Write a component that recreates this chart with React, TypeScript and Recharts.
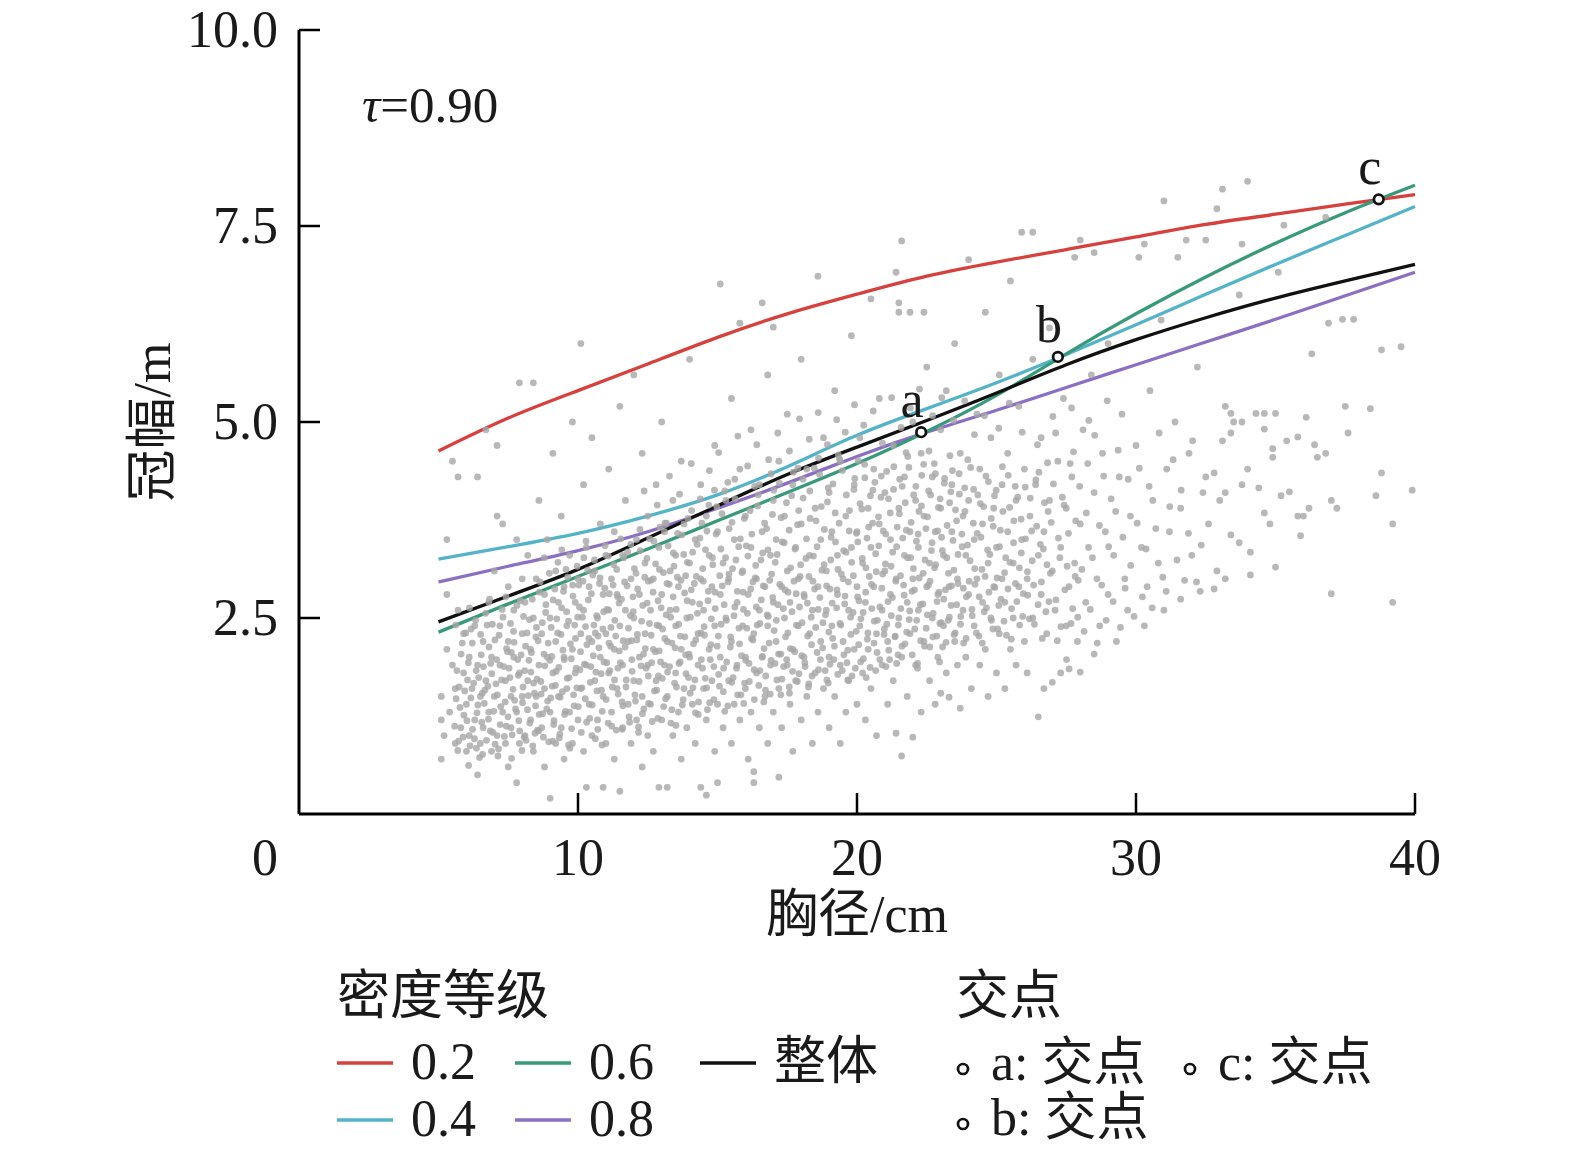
import React from "react";
import { ComposedChart, Scatter, Line, XAxis, YAxis, Label } from "recharts";

const FONT = "'Liberation Serif', 'Noto Sans CJK SC', serif";
const INK = "#1a1a1a";

const X_TICKS = [0, 10, 20, 30, 40];
const Y_TICKS = [2.5, 5, 7.5, 10];

// fitted curves, read at every 2.5 cm
const CURVE_X = [5, 7.5, 10, 12.5, 15, 17.5, 20, 22.5, 25, 27.5, 30, 32.5, 35, 37.5, 40];
const DENSITY_02 = [4.63, 5.05, 5.4, 5.74, 6.08, 6.38, 6.63, 6.86, 7.04, 7.2, 7.36, 7.52, 7.65, 7.78, 7.9];
const DENSITY_04 = [3.25, 3.41, 3.58, 3.8, 4.07, 4.43, 4.83, 5.17, 5.5, 5.86, 6.24, 6.63, 7.01, 7.38, 7.75];
const DENSITY_06 = [2.32, 2.68, 3.03, 3.38, 3.74, 4.1, 4.47, 4.88, 5.34, 5.87, 6.38, 6.85, 7.28, 7.67, 8.02];
const DENSITY_08 = [2.96, 3.16, 3.36, 3.6, 3.9, 4.22, 4.56, 4.87, 5.15, 5.44, 5.73, 6.02, 6.31, 6.61, 6.91];
const OVERALL = [2.45, 2.78, 3.12, 3.52, 3.93, 4.33, 4.68, 5.02, 5.37, 5.73, 6.05, 6.33, 6.58, 6.8, 7.01];

// intersection points
const CROSS_LABELS = ["a", "b", "c"];
const CROSS_X = [22.3, 27.2, 38.7];
const CROSS_Y = [4.87, 5.83, 7.84];

// observed trees (DBH cm, crown width m), grouped by DBH band
const DOTS_A = [[5.1,0.7],[5.1,1.2],[5.1,1.5],[5.2,1.0],[5.3,2.1],[5.3,2.8],[5.3,3.5],[5.5,1.9],[5.5,4.5],[5.4,1.3],[5.6,0.9],[5.6,1.6],[5.7,2.6],[5.7,4.3],[5.8,1.1],[5.9,1.8],[5.9,2.3],[6.0,0.8],[6.0,1.4],[6.1,2.0],[6.1,1.0],[6.2,1.6],[6.3,2.4],[6.3,1.2],[6.4,0.5],[6.4,4.3],[6.4,1.9],[6.5,0.9],[6.5,1.5],[6.6,2.2],[6.6,1.1],[6.7,4.9],[6.7,1.7],[6.8,2.7],[6.8,1.3],[6.9,0.8],[6.9,2.0],[7.0,1.5],[7.0,3.1],[7.1,4.7],[7.1,3.8],[7.1,1.0],[7.2,1.9],[7.2,2.4],[7.3,3.7],[7.3,1.3],[7.4,0.9],[7.4,1.7],[7.5,0.6],[7.5,2.2],[7.5,2.9],[7.6,1.1],[7.6,1.5],[7.7,2.0],[7.7,2.6],[7.8,0.4],[7.8,3.5],[7.8,1.3],[7.9,5.5],[7.9,1.8],[7.9,0.9],[8.0,2.3],[8.0,3.0],[8.0,1.5]];
const DOTS_B = [[8.1,1.0],[8.1,2.7],[8.2,1.7],[8.2,3.3],[8.3,1.2],[8.3,2.1],[8.4,5.5],[8.4,0.8],[8.4,2.5],[8.5,1.5],[8.5,3.0],[8.6,1.9],[8.6,4.0],[8.7,1.1],[8.7,2.3],[8.8,0.6],[8.8,1.6],[8.8,2.8],[8.9,2.0],[8.9,3.5],[9.0,0.2],[9.0,1.3],[9.0,2.5],[9.1,1.8],[9.1,4.6],[9.2,0.9],[9.2,2.2],[9.2,3.1],[9.3,1.5],[9.3,2.7],[9.4,1.1],[9.4,3.8],[9.5,2.0],[9.5,0.7],[9.5,2.9],[9.6,1.6],[9.6,2.4],[9.7,1.3],[9.7,3.3],[9.8,0.9],[9.8,2.1],[9.8,5.0],[9.9,1.8],[9.9,2.7],[10.0,1.2],[10.0,3.0],[10.1,6.0],[10.1,2.3],[10.1,1.6],[10.2,0.8],[10.2,2.6],[10.2,4.2],[10.3,0.34],[10.3,1.9],[10.3,3.4],[10.4,1.4],[10.4,2.9],[10.5,1.0],[10.5,2.2],[10.5,4.8],[10.6,1.7],[10.6,3.1],[10.7,2.5],[10.7,1.2],[10.8,2.0],[10.8,3.7],[10.9,0.34],[10.9,1.5],[10.9,2.8],[11.0,0.9],[11.0,2.3],[11.0,3.3]];
const DOTS_C = [[11.1,1.8],[11.1,2.6],[11.1,4.4],[11.2,1.3],[11.2,3.0],[11.3,0.7],[11.3,2.1],[11.3,3.6],[11.4,1.6],[11.4,2.8],[11.5,0.29],[11.5,2.4],[11.5,5.2],[11.6,1.1],[11.6,1.9],[11.6,3.3],[11.7,2.6],[11.7,4.0],[11.8,1.4],[11.8,2.2],[11.9,0.9],[11.9,3.0],[12.0,1.7],[12.0,2.5],[12.0,5.6],[12.1,3.5],[12.1,1.2],[12.2,2.0],[12.2,2.8],[12.3,0.6],[12.3,1.5],[12.3,4.6],[12.4,2.3],[12.4,3.2],[12.5,1.0],[12.5,1.9],[12.5,3.8],[12.6,2.6],[12.6,1.4],[12.7,0.8],[12.7,2.1],[12.7,3.0],[12.8,1.7],[12.8,4.2],[12.9,0.34],[12.9,2.4],[12.9,3.4],[13.0,1.2],[13.0,2.8],[13.0,5.0],[13.1,1.9],[13.1,3.6],[13.2,0.34],[13.2,2.2],[13.2,1.5],[13.3,3.1],[13.3,2.6],[13.4,1.0],[13.4,4.0],[13.5,1.8],[13.5,2.4],[13.5,3.3],[13.6,1.3],[13.6,2.9],[13.7,0.7],[13.7,2.1],[13.7,4.5],[13.8,1.6],[13.8,3.7],[13.9,2.5],[13.9,1.1],[14.0,2.0],[14.0,3.2],[14.0,5.8]];
const DOTS_D = [[14.1,1.4],[14.1,2.7],[14.2,0.9],[14.2,3.5],[14.3,1.9],[14.3,2.3],[14.4,0.34],[14.4,3.0],[14.4,4.2],[14.5,1.6],[14.5,2.6],[14.6,0.24],[14.6,1.2],[14.6,3.8],[14.7,2.1],[14.7,3.3],[14.8,1.7],[14.8,2.9],[14.9,0.8],[14.9,2.4],[14.9,4.7],[15.0,0.4],[15.0,1.4],[15.0,3.6],[15.1,6.76],[15.1,2.0],[15.1,2.8],[15.2,1.1],[15.2,3.2],[15.3,2.5],[15.3,4.0],[15.4,1.7],[15.4,3.0],[15.5,0.9],[15.5,2.2],[15.5,5.3],[15.6,1.4],[15.6,3.5],[15.7,2.7],[15.7,1.9],[15.8,6.26],[15.8,1.2],[15.8,4.4],[15.9,2.4],[15.9,3.1],[16.0,1.6],[16.0,2.0],[16.0,3.8],[16.1,0.7],[16.1,2.8],[16.2,1.3],[16.2,3.4],[16.2,4.9],[16.3,0.54],[16.3,0.4],[16.3,2.3],[16.4,1.8],[16.4,3.0],[16.5,1.1],[16.5,2.6],[16.5,4.2],[16.6,6.52],[16.6,2.0],[16.6,3.6],[16.7,1.5],[16.7,2.9],[16.8,0.9],[16.8,2.4],[16.8,5.6],[16.9,1.9],[16.9,3.3],[17.0,6.21],[17.0,1.3],[17.0,2.7],[17.0,4.0]];
const DOTS_E = [[17.1,2.2],[17.1,3.5],[17.2,0.47],[17.2,1.6],[17.2,4.5],[17.3,2.9],[17.3,1.1],[17.4,2.5],[17.4,3.8],[17.5,1.9],[17.5,3.1],[17.5,5.1],[17.6,1.4],[17.6,2.7],[17.7,0.8],[17.7,2.1],[17.7,4.2],[17.8,3.4],[17.8,1.7],[17.9,2.4],[17.9,3.0],[18.0,1.2],[18.0,3.7],[18.0,5.8],[18.1,2.0],[18.1,2.8],[18.2,1.5],[18.2,4.4],[18.3,2.3],[18.3,3.3],[18.4,0.9],[18.4,2.6],[18.5,1.8],[18.5,3.9],[18.6,6.86],[18.6,2.9],[18.6,1.3],[18.7,2.2],[18.7,3.5],[18.8,4.8],[18.8,1.6],[18.9,2.6],[18.9,3.1],[19.0,1.1],[19.0,2.0],[19.0,4.1],[19.1,3.6],[19.1,2.4],[19.2,1.5],[19.2,5.4],[19.3,2.8],[19.3,3.3],[19.4,0.9],[19.4,1.9],[19.4,4.5],[19.5,2.2],[19.5,3.0],[19.6,1.3],[19.6,3.8],[19.7,2.6],[19.7,1.7],[19.8,3.4],[19.8,6.1],[19.9,2.1],[19.9,4.2],[20.0,1.4],[20.0,2.9],[20.0,3.6]];
const DOTS_F = [[20.1,2.4],[20.1,4.8],[20.2,1.8],[20.2,3.2],[20.3,2.7],[20.3,1.2],[20.4,3.9],[20.4,2.1],[20.5,6.57],[20.5,3.4],[20.5,1.6],[20.6,2.9],[20.6,4.4],[20.7,2.3],[20.7,1.0],[20.8,3.7],[20.8,5.3],[20.9,2.6],[20.9,1.9],[21.0,3.1],[21.0,4.1],[21.1,1.4],[21.1,2.2],[21.2,3.5],[21.2,2.8],[21.3,4.7],[21.3,1.7],[21.4,6.91],[21.4,1.03],[21.4,3.0],[21.5,6.52],[21.5,6.4],[21.5,2.5],[21.5,3.9],[21.6,7.31],[21.6,0.74],[21.6,2.0],[21.7,3.3],[21.7,4.3],[21.8,2.7],[21.8,1.5],[21.9,6.4],[21.9,3.6],[21.9,2.3],[22.0,0.98],[22.0,3.0],[22.0,5.0],[22.1,1.9],[22.1,4.0],[22.2,2.6],[22.2,3.4],[22.3,1.3],[22.3,4.6],[22.4,6.4],[22.4,2.2],[22.4,3.8],[22.5,2.9],[22.5,5.7],[22.6,1.7],[22.6,3.2],[22.7,2.5],[22.7,4.3],[22.8,1.4],[22.8,3.6],[22.9,2.0],[22.9,2.8],[23.0,1.54],[23.0,3.9],[23.0,4.9]];
const DOTS_G = [[23.1,2.4],[23.1,3.3],[23.2,5.4],[23.2,1.8],[23.3,1.49],[23.3,2.9],[23.4,4.2],[23.4,3.6],[23.5,2.2],[23.5,6.0],[23.6,3.0],[23.6,1.9],[23.7,1.35],[23.7,4.6],[23.8,2.6],[23.8,3.8],[23.9,2.0],[23.9,3.3],[24.0,7.07],[24.0,2.8],[24.0,4.0],[24.1,1.6],[24.2,3.5],[24.2,2.4],[24.3,5.1],[24.3,3.0],[24.4,1.9],[24.4,4.4],[24.5,2.7],[24.5,3.7],[24.6,2.1],[24.6,6.4],[24.7,3.2],[24.7,1.5],[24.8,4.8],[24.8,2.5],[24.9,3.9],[24.9,2.9],[25.0,1.8],[25.0,3.4],[25.1,5.6],[25.1,2.3],[25.2,4.2],[25.2,3.0],[25.3,1.6],[25.3,2.7],[25.4,3.6],[25.4,4.6],[25.5,2.1],[25.5,6.8],[25.6,3.2],[25.6,2.5],[25.7,1.9],[25.7,4.0],[25.8,2.9],[25.8,5.2],[25.9,7.42],[25.9,3.5],[26.0,2.2],[26.0,4.4]];
const DOTS_H = [[26.1,3.0],[26.1,1.8],[26.2,3.8],[26.3,7.42],[26.3,2.5],[26.3,5.8],[26.4,4.2],[26.5,1.24],[26.5,3.3],[26.6,2.8],[26.6,4.8],[26.7,1.6],[26.7,3.6],[26.8,2.3],[26.9,4.0],[26.9,6.2],[27.0,1.68],[27.0,3.1],[27.1,2.6],[27.2,4.5],[27.3,1.8],[27.3,3.4],[27.4,5.3],[27.5,2.4],[27.5,3.9],[27.6,1.85],[27.6,2.9],[27.7,4.3],[27.8,7.1],[27.8,3.2],[27.9,2.2],[28.0,7.32],[28.0,1.81],[28.0,3.7],[28.1,4.9],[28.2,2.7],[28.3,3.4],[28.4,5.6],[28.5,7.16],[28.5,2.04],[28.5,4.1],[28.6,3.0],[28.7,2.4],[28.8,4.6],[28.9,3.6],[29.0,2.8],[29.0,6.0],[29.2,3.3],[29.3,2.2],[29.4,4.3],[29.5,5.1],[29.6,3.0],[29.7,2.6],[29.8,3.8],[30.0,4.7],[30.1,7.1],[30.3,7.27],[30.3,2.4]];
const DOTS_I = [[30.2,3.4],[30.4,2.9],[30.5,5.4],[30.6,4.0],[30.8,3.2],[30.9,6.3],[31.0,7.82],[31.0,2.6],[31.1,4.4],[31.2,3.6],[31.4,5.0],[31.5,7.1],[31.6,2.74],[31.6,3.9],[31.8,7.32],[31.9,4.6],[32.0,3.3],[32.2,5.7],[32.3,2.84],[32.4,4.1],[32.5,7.32],[32.5,4.3],[32.6,3.7],[32.8,2.87],[32.8,4.35],[32.9,7.72],[32.9,3.1],[33.0,4.0],[33.1,7.97],[33.1,4.76],[33.2,3.0],[33.2,4.1],[33.2,5.2],[33.4,3.56],[33.4,4.86],[33.4,5.11],[33.5,5.0],[33.7,3.46],[33.7,6.62],[33.8,4.2],[33.8,5.0],[33.8,7.27],[34.0,8.07],[34.0,4.4]];
const DOTS_J = [[34.1,3.34],[34.1,3.05],[34.3,5.11],[34.4,4.16],[34.6,3.84],[34.6,4.91],[34.6,5.11],[34.8,3.7],[34.9,4.66],[34.9,4.55],[35.0,3.15],[35.0,5.11],[35.1,6.91],[35.2,4.06],[35.3,7.51],[35.4,4.76],[35.5,4.11],[35.8,4.81],[35.8,3.8],[35.9,3.55],[36.0,3.8],[36.1,5.06],[36.2,3.9],[36.3,5.87],[36.4,4.71],[36.5,4.55],[36.8,4.6],[36.8,7.61],[36.9,6.26],[37.0,2.81],[37.0,4.0],[37.2,3.9],[37.4,6.31],[37.5,5.2],[37.6,4.86],[37.8,6.31],[38.4,5.17],[38.6,4.06],[38.8,4.35],[38.8,5.92],[39.2,3.7],[39.2,2.7],[39.5,5.96],[39.9,4.13]];

// the dense core of the cloud
const CORE_1 = [[5.63,1.47],[5.72,0.93],[5.85,2.18],[5.91,1.26],[6.04,1.71],[6.08,0.62],[6.17,2.36],[6.22,1.08],[6.35,1.83],[6.41,1.39],[6.53,2.03],[6.58,0.76],[6.66,1.58],[6.74,2.41],[6.79,1.21],[6.87,1.92],[6.95,1.04],[7.02,2.22],[7.06,1.66],[7.15,0.83],[7.23,1.37],[7.28,2.61],[7.34,1.88],[7.43,1.12],[7.47,2.07],[7.56,1.74],[7.62,0.71],[7.69,2.33],[7.73,1.45],[7.84,1.97],[7.88,1.19],[7.93,2.72],[8.03,1.62],[8.07,0.98],[8.12,2.14],[8.19,1.33],[8.26,2.48],[8.31,1.81],[8.38,0.87],[8.44,1.54],[8.49,2.26],[8.55,1.07],[8.62,2.83],[8.67,1.69],[8.73,1.28],[8.78,2.04],[8.84,2.57],[8.91,1.44],[8.95,0.92],[8.99,1.96]];
const CORE_2 = [[9.04,2.38],[9.08,1.63],[9.13,1.14],[9.17,2.87],[9.22,1.82],[9.27,2.31],[9.33,0.97],[9.36,1.49],[9.41,2.63],[9.46,2.09],[9.52,1.27],[9.57,3.12],[9.61,1.73],[9.66,2.46],[9.71,0.84],[9.76,1.98],[9.82,2.78],[9.86,1.38],[9.91,2.24],[9.96,1.61],[10.03,2.92],[10.07,1.84],[10.12,1.04],[10.16,2.51],[10.21,3.27],[10.26,1.47],[10.32,2.16],[10.37,2.73],[10.42,1.22],[10.46,1.88],[10.53,3.05],[10.57,2.41],[10.62,0.96],[10.68,1.57],[10.72,2.27],[10.77,2.94],[10.83,1.79],[10.87,1.31],[10.92,2.58],[10.97,3.42],[11.03,1.93],[11.08,1.16],[11.12,2.81],[11.17,2.14],[11.23,1.62],[11.28,3.18],[11.32,2.47],[11.37,1.07],[11.43,1.86],[11.47,2.69],[11.53,3.51],[11.58,1.43],[11.62,2.21],[11.67,2.96],[11.73,1.71],[11.78,3.34],[11.83,1.24],[11.88,2.53],[11.93,1.97],[11.97,2.77]];
const CORE_3 = [[12.04,1.52],[12.08,3.07],[12.13,2.29],[12.17,1.11],[12.22,3.63],[12.26,1.89],[12.32,2.66],[12.36,1.34],[12.41,2.11],[12.47,3.26],[12.52,1.76],[12.56,2.43],[12.61,2.98],[12.66,1.18],[12.72,3.48],[12.77,2.07],[12.82,1.58],[12.87,2.72],[12.92,3.12],[12.96,1.94],[13.03,2.36],[13.07,1.37],[13.12,3.71],[13.16,2.54],[13.21,1.81],[13.27,2.93],[13.33,1.16],[13.37,2.18],[13.42,3.33],[13.46,1.67],[13.52,2.61],[13.56,3.02],[13.62,1.92],[13.67,2.27],[13.72,3.56],[13.77,1.46],[13.82,2.82],[13.86,2.03],[13.92,3.21],[13.96,1.74],[14.03,2.51],[14.07,3.87],[14.12,1.61],[14.17,2.94],[14.22,2.22],[14.27,3.44],[14.31,1.27],[14.36,2.68],[14.42,1.97],[14.47,3.13],[14.52,2.39],[14.56,1.73],[14.62,3.61],[14.67,2.84],[14.72,1.42],[14.76,2.16],[14.82,3.27],[14.87,1.88],[14.92,2.62],[14.97,3.92]];
const CORE_4 = [[15.03,2.27],[15.07,1.63],[15.12,3.38],[15.17,2.91],[15.22,1.86],[15.26,4.12],[15.32,2.47],[15.37,1.38],[15.41,3.06],[15.46,2.13],[15.52,3.72],[15.56,1.74],[15.62,2.64],[15.66,3.24],[15.72,1.52],[15.77,2.37],[15.82,3.51],[15.86,2.02],[15.92,2.83],[15.97,1.67],[16.03,3.42],[16.07,2.56],[16.13,1.92],[16.17,3.87],[16.22,2.24],[16.27,2.96],[16.32,1.46],[16.37,3.17],[16.42,2.41],[16.46,4.07],[16.52,1.83],[16.57,2.73],[16.62,3.33],[16.67,2.11],[16.72,1.58],[16.76,3.64],[16.82,2.52],[16.87,2.98],[16.92,1.96],[16.97,3.82],[17.03,2.34],[17.07,3.21],[17.13,1.71],[17.17,2.67],[17.22,4.22],[17.27,2.04],[17.32,3.47],[17.37,1.88],[17.42,2.86],[17.47,3.97],[17.52,2.31],[17.57,1.62],[17.62,3.14],[17.67,2.58],[17.72,4.36],[17.77,2.07],[17.82,2.81],[17.87,3.69],[17.92,1.79],[17.96,3.03]];
const CORE_5 = [[18.03,2.44],[18.07,4.03],[18.13,1.93],[18.17,3.26],[18.22,2.69],[18.27,1.66],[18.32,3.77],[18.37,2.16],[18.42,2.97],[18.47,4.41],[18.52,2.38],[18.57,3.41],[18.62,1.84],[18.67,2.76],[18.72,3.92],[18.77,2.12],[18.82,3.18],[18.87,2.54],[18.92,1.71],[18.97,4.16],[19.03,2.87],[19.07,3.53],[19.13,2.24],[19.17,1.97],[19.22,3.84],[19.27,2.63],[19.32,3.12],[19.37,4.53],[19.42,2.41],[19.47,1.83],[19.52,3.36],[19.57,2.78],[19.62,4.07],[19.67,2.09],[19.72,3.61],[19.77,2.51],[19.82,1.76],[19.87,3.04],[19.92,4.28],[19.97,2.33],[20.03,3.47],[20.07,2.72],[20.13,1.94],[20.17,3.89],[20.22,2.57],[20.27,4.46],[20.32,3.14],[20.37,2.23],[20.42,3.66],[20.47,1.87],[20.52,2.93],[20.57,4.13],[20.62,2.46],[20.67,3.32],[20.72,2.06],[20.77,3.79],[20.82,2.64],[20.87,4.31],[20.92,3.06],[20.97,2.29]];
const CORE_6 = [[21.03,3.57],[21.07,2.42],[21.13,4.02],[21.17,1.97],[21.22,3.16],[21.27,2.76],[21.32,4.43],[21.37,2.27],[21.42,3.41],[21.47,2.03],[21.52,3.83],[21.57,2.62],[21.62,4.18],[21.67,2.92],[21.72,2.17],[21.77,3.62],[21.82,4.56],[21.87,2.48],[21.92,3.27],[21.97,2.84],[22.03,4.07],[22.07,2.36],[22.13,3.48],[22.17,1.92],[22.22,3.86],[22.27,2.67],[22.32,4.32],[22.37,3.07],[22.42,2.14],[22.47,3.64],[22.52,2.54],[22.57,4.12],[22.62,2.97],[22.67,3.36],[22.72,2.26],[22.77,4.47],[22.82,3.18],[22.87,2.71],[22.92,3.91],[22.97,2.43],[23.03,3.53],[23.07,2.13],[23.13,4.22],[23.17,2.86],[23.22,3.27],[23.27,2.47],[23.32,3.97],[23.37,2.66],[23.42,4.38],[23.47,3.11],[23.52,2.31],[23.57,3.74],[23.62,2.94],[23.67,4.08],[23.72,2.52],[23.77,3.41],[23.82,2.18],[23.87,3.86],[23.92,2.77],[23.97,4.52]];
const CORE_7 = [[24.05,3.23],[24.12,2.61],[24.18,4.14],[24.23,2.93],[24.31,3.58],[24.37,2.27],[24.42,3.96],[24.48,3.12],[24.56,2.58],[24.62,4.31],[24.68,3.37],[24.73,2.83],[24.81,3.77],[24.87,2.36],[24.93,4.06],[25.02,3.01],[25.08,2.66],[25.14,3.62],[25.21,4.43],[25.27,2.46],[25.33,3.27],[25.41,2.87],[25.47,3.91],[25.53,2.23],[25.61,3.46],[25.67,4.18],[25.73,2.71],[25.82,3.14],[25.88,3.76],[25.94,2.52],[26.04,3.51],[26.12,2.79],[26.21,4.03],[26.28,3.23],[26.36,2.42],[26.44,3.67],[26.52,4.36],[26.61,2.96],[26.68,3.38],[26.77,2.58],[26.85,3.86],[26.93,3.07],[27.04,4.21],[27.13,2.73],[27.22,3.52],[27.31,2.39],[27.42,3.94],[27.53,3.16],[27.64,4.47],[27.73,2.62],[27.84,3.74],[27.93,2.98]];

// second pass over the darkest part of the cloud
const DENSE_1 = [[5.58,1.12],[5.66,1.83],[5.69,0.81],[5.77,1.36],[5.81,2.04],[5.88,0.98],[5.94,1.57],[5.98,2.31],[6.02,1.19],[6.07,1.93],[6.13,0.87],[6.16,1.48],[6.21,2.18],[6.26,1.67],[6.29,0.96],[6.33,2.47],[6.38,1.29],[6.44,1.74],[6.47,0.72],[6.51,2.29],[6.55,1.17],[6.61,1.88],[6.64,1.41],[6.69,2.56],[6.72,0.94],[6.77,1.63],[6.81,2.13],[6.86,1.06],[6.91,1.79],[6.93,2.42],[6.98,1.31],[7.03,0.89],[7.08,1.97],[7.11,1.52],[7.17,2.28],[7.21,1.14],[7.26,1.71],[7.31,2.51],[7.36,0.99],[7.39,1.43],[7.44,2.11],[7.49,1.24],[7.53,1.86],[7.58,2.43],[7.64,1.01],[7.67,1.59],[7.71,2.19],[7.76,1.34],[7.81,2.66],[7.86,1.77],[7.91,1.06],[7.96,2.03],[8.01,1.42],[8.05,2.52],[8.09,1.83],[8.14,0.94],[8.17,2.31],[8.22,1.51],[8.27,1.16],[8.33,2.06],[8.36,2.74],[8.41,1.67],[8.46,1.03],[8.51,2.38],[5.62,2.41],[5.74,1.62],[6.11,2.63],[6.36,0.84],[6.57,1.54],[6.83,2.74],[7.13,0.74],[7.42,2.77],[7.61,2.06],[7.99,0.81],[8.24,1.96],[8.48,1.38]];
const DENSE_2 = [[8.53,1.72],[8.57,2.21],[8.61,1.27],[8.64,2.96],[8.68,1.53],[8.72,2.44],[8.76,0.98],[8.81,1.89],[8.85,2.67],[8.88,1.34],[8.93,2.18],[8.97,3.07],[9.02,1.48],[9.06,2.01],[9.11,2.73],[9.14,1.19],[9.19,1.64],[9.24,2.49],[9.28,3.21],[9.31,1.87],[9.35,1.02],[9.39,2.29],[9.44,1.56],[9.48,2.84],[9.51,1.97],[9.55,1.31],[9.59,2.58],[9.63,3.02],[9.68,1.74],[9.73,2.17],[9.77,1.09],[9.81,2.92],[9.84,1.52],[9.88,2.41],[9.93,1.86],[9.97,3.16],[10.01,1.37],[10.05,2.64],[10.09,2.07],[10.14,1.61],[10.18,2.97],[10.23,1.91],[10.27,2.39],[10.31,1.17],[10.35,3.11],[10.39,2.24],[10.44,1.68],[10.48,2.81],[10.51,1.39],[10.55,2.02],[10.59,3.24],[10.64,1.81],[10.67,2.53],[10.71,1.08],[10.75,2.12],[10.79,3.01],[10.84,1.58],[10.89,2.36],[10.93,1.94],[10.96,2.88],[11.01,1.46],[11.04,2.61],[11.09,3.29],[11.14,1.83],[11.18,2.38],[11.21,1.12],[11.26,2.92],[11.31,1.71],[11.35,2.27],[11.39,3.12],[11.44,1.53],[11.48,2.08],[8.59,1.06],[8.79,3.27],[9.09,0.93],[9.42,3.37],[9.66,0.88],[9.99,2.51],[10.29,3.48],[10.62,2.31],[10.86,0.88],[11.11,2.18],[11.42,2.77]];
const DENSE_3 = [[11.52,1.93],[11.56,2.74],[11.61,1.38],[11.64,3.27],[11.69,2.13],[11.72,1.62],[11.76,2.91],[11.81,2.37],[11.85,1.17],[11.89,3.44],[11.94,1.82],[11.98,2.58],[12.02,3.13],[12.06,1.44],[12.11,2.22],[12.14,2.87],[12.19,1.69],[12.23,3.36],[12.28,2.46],[12.31,1.28],[12.35,2.04],[12.39,3.02],[12.44,1.86],[12.48,2.69],[12.53,1.41],[12.57,3.51],[12.62,2.28],[12.64,1.93],[12.69,2.83],[12.74,1.57],[12.78,3.19],[12.83,2.41],[12.86,1.22],[12.91,2.08],[12.94,3.66],[12.98,2.63],[13.02,1.73],[13.06,3.08],[13.11,2.24],[13.14,1.47],[13.19,2.94],[13.23,3.42],[13.28,1.88],[13.32,2.51],[13.36,1.33],[13.41,2.77],[13.44,3.16],[13.48,2.12],[13.53,1.62],[13.57,3.58],[13.61,2.42],[13.66,1.94],[13.69,2.98],[13.74,1.39],[13.79,3.31],[13.83,2.26],[13.87,1.79],[13.91,2.72],[13.94,3.77],[13.98,2.04],[14.02,1.54],[14.06,2.86],[14.11,3.34],[14.14,2.17],[14.19,1.71],[14.24,3.03],[14.28,2.56],[14.32,1.43],[14.37,3.52],[14.41,2.31],[14.46,1.86],[14.49,2.97],[11.58,1.08],[11.92,2.21],[12.17,1.04],[12.52,2.97],[12.88,1.76],[13.17,3.71],[13.51,1.13],[13.86,3.04],[14.21,1.29],[14.44,3.71]];
const DENSE_4 = [[14.53,2.28],[14.57,3.37],[14.61,1.61],[14.66,2.72],[14.69,3.94],[14.74,1.97],[14.78,2.49],[14.83,3.18],[14.87,1.46],[14.91,2.83],[14.95,3.57],[14.99,2.14],[15.04,1.78],[15.08,3.04],[15.13,2.42],[15.16,3.83],[15.21,1.56],[15.24,2.67],[15.29,3.27],[15.33,1.94],[15.38,2.96],[15.42,3.64],[15.47,2.26],[15.51,1.68],[15.54,3.13],[15.59,2.53],[15.63,4.02],[15.68,1.86],[15.71,2.84],[15.76,3.41],[15.79,2.17],[15.84,1.52],[15.88,3.08],[15.93,2.61],[15.96,3.77],[16.01,1.96],[16.05,2.37],[16.09,3.29],[16.14,1.69],[16.19,2.87],[16.23,3.57],[16.27,2.22],[16.31,1.84],[16.35,3.01],[16.39,2.64],[16.44,3.93],[16.48,1.64],[16.52,2.43],[16.56,3.24],[16.61,2.01],[16.64,2.91],[16.69,3.71],[16.73,1.76],[16.78,2.54],[16.81,3.37],[16.85,2.18],[16.89,1.53],[16.94,3.06],[16.98,2.76],[17.02,4.13],[17.06,1.92],[17.11,2.47],[17.14,3.31],[17.19,2.04],[17.23,2.93],[17.28,3.78],[17.31,1.72],[17.36,2.62],[17.39,3.46],[17.44,2.26],[17.48,1.97],[14.64,1.33],[14.89,4.13],[15.26,1.31],[15.62,4.27],[15.94,1.41],[16.33,4.18],[16.66,1.43],[16.92,4.34],[17.27,1.52]];
const DENSE_5 = [[17.53,2.83],[17.57,3.62],[17.61,2.11],[17.66,4.06],[17.69,1.82],[17.74,2.97],[17.78,3.38],[17.83,2.41],[17.86,1.69],[17.91,3.87],[17.94,2.64],[17.98,3.18],[18.02,2.02],[18.06,4.27],[18.11,2.77],[18.14,1.88],[18.19,3.51],[18.23,2.27],[18.28,3.03],[18.31,4.12],[18.36,2.51],[18.39,1.76],[18.44,3.29],[18.48,2.87],[18.53,3.74],[18.57,2.06],[18.61,2.61],[18.66,4.33],[18.69,1.97],[18.74,3.11],[18.78,2.44],[18.83,3.63],[18.86,1.83],[18.91,2.91],[18.94,3.98],[18.99,2.32],[19.03,1.91],[19.06,3.24],[19.11,2.69],[19.14,4.21],[19.19,2.14],[19.23,3.47],[19.28,2.86],[19.31,1.78],[19.36,3.71],[19.39,2.43],[19.44,3.06],[19.48,4.38],[19.53,2.03],[19.56,2.68],[19.61,3.34],[19.64,1.93],[19.69,2.96],[19.73,3.87],[19.78,2.29],[19.81,3.21],[19.86,2.57],[19.89,4.14],[19.94,1.86],[19.98,3.58],[20.02,2.77],[20.06,2.16],[20.11,3.96],[20.14,2.49],[20.19,3.26],[20.23,1.98],[20.28,4.29],[20.31,2.83],[20.36,3.52],[20.39,2.31],[20.44,3.03],[20.48,4.06],[17.58,1.54],[17.88,4.41],[18.26,1.62],[18.62,4.54],[18.97,1.67],[19.33,4.58],[19.67,1.71],[20.04,4.51],[20.33,1.74]];
const DENSE_6 = [[20.53,2.62],[20.56,3.71],[20.61,2.18],[20.64,4.23],[20.69,3.09],[20.73,2.47],[20.78,3.42],[20.82,1.97],[20.86,4.04],[20.89,2.88],[20.94,3.61],[20.98,2.36],[21.02,3.19],[21.06,4.37],[21.11,2.71],[21.14,2.09],[21.19,3.84],[21.23,2.53],[21.28,3.34],[21.31,4.14],[21.36,2.26],[21.39,2.97],[21.44,3.66],[21.48,2.41],[21.53,4.27],[21.56,3.04],[21.61,2.14],[21.64,3.52],[21.69,2.79],[21.73,3.97],[21.78,2.32],[21.81,3.27],[21.86,4.42],[21.89,2.59],[21.94,3.72],[21.98,2.03],[22.02,3.13],[22.06,2.86],[22.11,4.18],[22.14,2.47],[22.19,3.57],[22.23,3.01],[22.28,2.21],[22.31,3.93],[22.36,2.68],[22.39,4.46],[22.44,3.24],[22.48,2.37],[22.53,3.79],[22.56,2.92],[22.61,2.13],[22.64,4.07],[22.69,3.46],[22.73,2.56],[22.78,3.14],[22.81,4.34],[22.86,2.27],[22.89,3.61],[22.94,2.83],[22.98,4.02],[23.02,2.44],[23.06,3.36],[23.11,2.74],[23.14,4.28],[23.19,2.19],[23.23,3.68],[23.28,3.07],[23.31,2.51],[23.36,4.11],[23.39,2.91],[23.44,3.49],[23.48,2.29],[20.67,1.83],[21.04,1.88],[21.42,1.92],[21.76,4.61],[22.17,1.86],[22.58,4.63],[22.96,1.94],[23.33,4.57]];
const DENSE_7 = [[23.53,3.88],[23.57,2.67],[23.62,3.31],[23.66,4.34],[23.71,2.42],[23.76,3.57],[23.81,2.88],[23.86,4.16],[23.91,2.24],[23.96,3.43],[24.02,2.97],[24.07,4.42],[24.13,2.53],[24.17,3.71],[24.22,3.13],[24.28,2.31],[24.33,4.07],[24.38,2.77],[24.44,3.53],[24.49,2.18],[24.54,3.92],[24.59,3.03],[24.64,2.63],[24.71,4.24],[24.76,3.31],[24.82,2.47],[24.88,3.67],[24.94,2.89],[24.99,4.13],[25.04,2.36],[25.11,3.41],[25.16,2.74],[25.23,3.86],[25.29,3.08],[25.36,2.28],[25.42,4.32],[25.48,3.21],[25.54,2.62],[25.62,3.74],[25.68,2.94],[25.76,4.04],[25.83,2.41],[25.89,3.33],[25.96,2.81],[26.03,4.17],[26.11,3.09],[26.18,2.49],[26.26,3.61],[26.33,2.92],[26.41,4.26],[26.49,2.67],[26.57,3.44],[26.64,2.24],[26.72,3.97],[26.81,3.18],[26.88,2.71],[26.96,3.72]];

// thinning edge of the cloud towards large trees, and the band just under the curves
const FADE = [[27.12,4.86],[27.18,2.21],[27.27,3.27],[27.36,4.04],[27.45,2.86],[27.51,1.97],[27.58,3.58],[27.67,2.43],[27.76,4.62],[27.82,3.03],[27.91,2.51],[27.98,4.18],[28.06,3.12],[28.14,2.33],[28.22,3.84],[28.27,4.47],[28.36,2.61],[28.44,3.27],[28.52,4.83],[28.61,2.18],[28.69,3.68],[28.77,2.92],[28.84,4.31],[28.93,2.47],[29.02,3.41],[29.11,4.02],[29.18,2.71],[29.27,3.86],[29.36,4.64],[29.44,2.38],[29.53,3.53],[29.61,2.88],[29.72,4.27],[29.81,3.17],[29.93,2.52],[30.04,3.71],[30.12,4.41],[30.23,2.77],[30.36,3.38],[30.47,4.18],[30.58,2.63],[30.71,3.64],[30.83,4.86],[30.96,3.02],[31.08,2.84],[31.21,3.92],[31.33,4.52],[31.47,3.24],[31.62,4.13],[31.74,2.98],[31.88,3.58],[32.03,4.76],[32.17,2.96],[32.34,3.43],[26.47,4.71],[26.83,4.48],[27.02,5.07],[27.69,5.18],[28.31,5.02],[28.97,5.27]];
const UPPER = [[12.37,4.12],[12.84,3.94],[13.28,4.31],[13.64,4.08],[14.06,4.47],[14.38,4.02],[14.71,4.38],[15.04,4.61],[15.37,4.23],[15.73,4.82],[16.08,4.44],[16.41,4.71],[16.83,4.52],[17.16,4.86],[17.58,4.63],[17.94,5.04],[18.29,4.78],[18.61,5.12],[18.94,4.71],[19.27,5.03],[19.58,4.87],[19.91,5.22],[20.24,4.96],[20.58,5.14],[20.91,4.73],[21.24,5.31],[21.58,4.93],[21.91,5.18],[22.24,5.42],[22.71,5.08],[23.04,5.31],[23.46,5.02],[23.86,5.27],[24.21,4.84],[24.57,5.08],[25.08,4.92],[25.46,5.24],[25.92,4.87]];

const CLOUD = [
  ...DOTS_A, ...DOTS_B, ...DOTS_C, ...DOTS_D, ...DOTS_E, ...DOTS_F, ...DOTS_G, ...DOTS_H, ...DOTS_I, ...DOTS_J,
  ...CORE_1, ...CORE_2, ...CORE_3, ...CORE_4, ...CORE_5, ...CORE_6, ...CORE_7,
  ...DENSE_1, ...DENSE_2, ...DENSE_3, ...DENSE_4, ...DENSE_5, ...DENSE_6, ...DENSE_7,
  ...FADE, ...UPPER,
].map(([x, y]) => ({ x, y }));

const SERIES = [
  { name: "0.2", color: "#d6403d", values: DENSITY_02 },
  { name: "0.4", color: "#55b3c7", values: DENSITY_04 },
  { name: "0.8", color: "#8a6fc2", values: DENSITY_08 },
  { name: "0.6", color: "#3a997b", values: DENSITY_06 },
  { name: "整体", color: "#111111", values: OVERALL },
];

const CROSSES = CROSS_LABELS.map((label, i) => ({ label, x: CROSS_X[i], y: CROSS_Y[i] }));

const W = 1575;
const H = 1156;
const Y_AXIS_W = 60;
const X_AXIS_H = 40;
const MARGIN = { top: 30, right: 160, bottom: 1156 - 814 - X_AXIS_H, left: 299 - Y_AXIS_W };
const TICK_LEN = 21;

// legend slots (page coords) for each series name, and for each crossing label
const LEGEND_SLOTS: Record<string, { x: number; y: number }> = {
  "0.2": { x: 337, y: 1063 },
  "0.6": { x: 515, y: 1063 },
  "整体": { x: 700, y: 1063 },
  "0.4": { x: 337, y: 1120 },
  "0.8": { x: 515, y: 1120 },
};
const CROSS_SLOTS: Record<string, { x: number; y: number }> = {
  a: { x: 963, y: 1069 },
  c: { x: 1190, y: 1069 },
  b: { x: 963, y: 1124 },
};

function XTick(props: any) {
  const { x, y, payload } = props;
  const origin = payload.value === 0;
  return (
    <g>
      {!origin && <line x1={x} x2={x} y1={y} y2={y - TICK_LEN} stroke="#000" strokeWidth={2.5} />}
      <text x={origin ? x - 34 : x} y={y + 61} textAnchor="middle" fontSize={52} fontFamily={FONT} fill={INK}>
        {payload.value}
      </text>
    </g>
  );
}

function YTick(props: any) {
  const { x, y, payload } = props;
  return (
    <g>
      <line x1={x} x2={x + TICK_LEN} y1={y} y2={y} stroke="#000" strokeWidth={2.5} />
      <text x={x - 21} y={y + 17} textAnchor="end" fontSize={52} fontFamily={FONT} fill={INK}>
        {payload.value.toFixed(1)}
      </text>
    </g>
  );
}

function Dot(props: any) {
  return <circle cx={props.cx} cy={props.cy} r={3.4} fill="#a6a6a6" fillOpacity={0.8} />;
}

function CrossMark(props: any) {
  const { cx, cy, payload } = props;
  return (
    <g>
      <circle cx={cx} cy={cy} r={4.8} fill="#fff" stroke="#111" strokeWidth={2.7} />
      <text x={cx - 9} y={cy - 15} textAnchor="middle" fontSize={52} fontFamily={FONT} fill={INK}>
        {payload.label}
      </text>
    </g>
  );
}

function Legends() {
  return (
    <svg width={W} height={H} style={{ position: "absolute", left: 0, top: 0, pointerEvents: "none" }}>
      <g fontFamily={FONT} fontSize={52} fill={INK}>
        <text x={337} y={1014} fontSize={53}>密度等级</text>
        {SERIES.map((s) => {
          const slot = LEGEND_SLOTS[s.name];
          return (
            <g key={s.name}>
              <line x1={slot.x} x2={slot.x + 56} y1={slot.y} y2={slot.y} stroke={s.color} strokeWidth={3.3} />
              <text x={slot.x + 74} y={slot.y + 16}>
                {s.name}
              </text>
            </g>
          );
        })}
        <text x={956} y={1014} fontSize={53}>交点</text>
        {CROSSES.map((c) => {
          const slot = CROSS_SLOTS[c.label];
          return (
            <g key={c.label}>
              <circle cx={slot.x} cy={slot.y} r={5} fill="#fff" stroke="#111" strokeWidth={2.7} />
              <text x={slot.x + 28} y={slot.y + 11}>
                {c.label}: 交点
              </text>
            </g>
          );
        })}
      </g>
    </svg>
  );
}

export default function App() {
  return (
    <div style={{ position: "absolute", left: 0, top: 0, width: W, height: H, background: "#fff" }}>
      <ComposedChart width={W} height={H} margin={MARGIN}>
        <XAxis
          type="number"
          dataKey="x"
          domain={[0, 40]}
          ticks={X_TICKS}
          interval={0}
          height={X_AXIS_H}
          tickSize={0}
          tickMargin={0}
          tickLine={false}
          tick={<XTick />}
          axisLine={{ stroke: "#000", strokeWidth: 3 }}
        >
          <Label
            content={(p: any) => (
              <text
                x={p.viewBox.x + p.viewBox.width / 2}
                y={p.viewBox.y + 118}
                textAnchor="middle"
                fontSize={52}
                fontFamily={FONT}
                fill={INK}
              >
                胸径/cm
              </text>
            )}
          />
        </XAxis>
        <YAxis
          type="number"
          dataKey="y"
          domain={[0, 10]}
          ticks={Y_TICKS}
          interval={0}
          width={Y_AXIS_W}
          tickSize={0}
          tickMargin={0}
          tickLine={false}
          tick={<YTick />}
          axisLine={{ stroke: "#000", strokeWidth: 3 }}
        >
          <Label
            content={(p: any) => {
              const axisX = p.viewBox.x + p.viewBox.width;
              const cx = axisX - 129;
              const cy = p.viewBox.y + p.viewBox.height / 2;
              return (
                <g fontFamily={FONT} fontSize={52} fill={INK}>
                  <text x={cx} y={cy} textAnchor="middle" transform={`rotate(-90 ${cx} ${cy})`}>
                    冠幅/m
                  </text>
                  <text x={axisX + 63} y={p.viewBox.y + 92} fontSize={51}>
                    <tspan fontStyle="italic">τ</tspan>=0.90
                  </text>
                </g>
              );
            }}
          />
        </YAxis>
        <Scatter data={CLOUD} dataKey="y" shape={<Dot />} isAnimationActive={false} />
        {SERIES.map((s) => (
          <Line
            key={s.name}
            data={CURVE_X.map((x, i) => ({ x, y: s.values[i] }))}
            dataKey="y"
            type="natural"
            stroke={s.color}
            strokeWidth={3.3}
            dot={false}
            activeDot={false}
            isAnimationActive={false}
          />
        ))}
        <Scatter data={CROSSES} dataKey="y" shape={<CrossMark />} isAnimationActive={false} />
      </ComposedChart>
      <Legends />
    </div>
  );
}
